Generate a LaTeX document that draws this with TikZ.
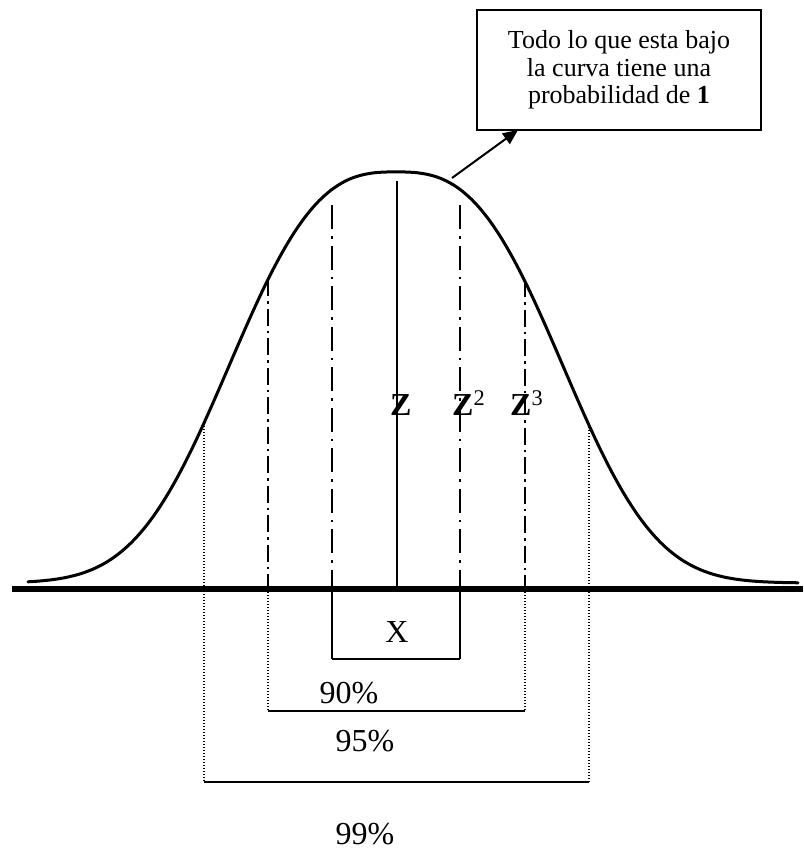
\documentclass[tikz,border=0pt]{standalone}
\usepackage{fontspec}
\setmainfont{Liberation Serif}
\usetikzlibrary{arrows.meta}
\begin{document}
\begin{tikzpicture}[x=1pt,y=-1pt,
  curve/.style={line width=3pt, line cap=round, line join=round},
  axisline/.style={line width=5.5pt},
  dashdotA/.style={line width=2.6pt, dash pattern=on 17pt off 5pt on 2.5pt off 5pt},
  dashdotB/.style={line width=2.6pt, dash pattern=on 24pt off 7pt on 2.5pt off 7pt},
  dotline/.style={line width=1.4pt, dash pattern=on 1.4pt off 1.6pt},
  thinline/.style={line width=1.4pt},
  bracket/.style={line width=2.2pt},
  lab/.style={font=\fontsize{32}{36}\selectfont, inner sep=0pt},
  zlab/.style={font=\fontsize{32}{36}\selectfont\bfseries, inner sep=0pt},
  callout/.style={draw, line width=2pt, align=center, font=\fontsize{26}{27.6}\selectfont, minimum width=284pt, minimum height=120pt, inner sep=0pt}
]
\useasboundingbox (0,0) rectangle (803,851);
% curve
\draw[curve] plot[domain=28:798, samples=240, smooth] (\x, {583-411*exp(-(abs(\x-396)/196)^2.8)});
% axis
\coordinate (axL) at (12,589);
\coordinate (axR) at (803,589);
\draw[axisline] (axL) -- (axR);
% center line
\coordinate (cT) at (397,181);
\coordinate (cB) at (397,589);
\draw[thinline] (cT) -- (cB);
% inner dash-dot lines
\coordinate (iLT) at (332,205);
\coordinate (iLB) at (332,589);
\coordinate (iRT) at (460,205);
\coordinate (iRB) at (460,589);
\draw[dashdotB] (iLT) -- (iLB);
\draw[dashdotB] (iRT) -- (iRB);
% X box
\coordinate (xb1) at (332,659);
\coordinate (xb2) at (460,659);
\draw[thinline] (iLB) -- (xb1);
\draw[thinline] (iRB) -- (xb2);
\draw[line width=2pt] (xb1) -- (xb2);
\node[lab, anchor=base] (xlab) at (397,642) {X};
% middle dash-dot lines
\coordinate (mLT) at (268,279);
\coordinate (mLA) at (268,589);
\coordinate (mLB) at (268,711);
\coordinate (mRT) at (525,280);
\coordinate (mRA) at (525,589);
\coordinate (mRB) at (525,711);
\draw[dashdotA] (mLT) -- (mLA);
\draw[dashdotA] (mRT) -- (mRA);
\draw[dotline] (mLA) -- (mLB);
\draw[dotline] (mRA) -- (mRB);
\draw[bracket] (mLB) -- (mRB);
% outer dotted lines
\coordinate (oLT) at (204,423);
\coordinate (oLB) at (204,782);
\coordinate (oRT) at (589,424);
\coordinate (oRB) at (589,782);
\draw[dotline] (oLT) -- (oLB);
\draw[dotline] (oRT) -- (oRB);
\draw[bracket] (oLB) -- (oRB);
% percentage labels
\node[lab, anchor=base] (p90) at (349,703) {90\%};
\node[lab, anchor=base] (p95) at (365,751) {95\%};
\node[lab, anchor=base] (p99) at (365,844) {99\%};
% Z labels
\node[zlab, anchor=base west] (z1) at (390,415) {Z};
\node[zlab, anchor=base west] (z2) at (452,415) {Z\textsuperscript{\mdseries 2}};
\node[zlab, anchor=base west] (z3) at (510,415) {Z\textsuperscript{\mdseries 3}};
% callout
\node[callout] (box) at (619,70) {Todo lo que esta bajo\\la curva tiene una\\probabilidad de \textbf{1}};
\coordinate (arrT) at (452,178);
\coordinate (arrH) at (518,130);
\draw[line width=2pt, -{Triangle[length=15pt,width=13pt]}] (arrT) -- (arrH);
\end{tikzpicture}
\end{document}
